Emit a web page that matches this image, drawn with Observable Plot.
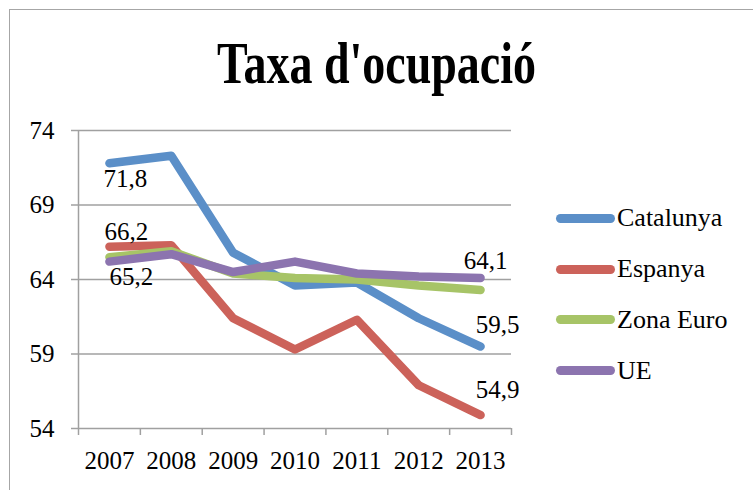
<!DOCTYPE html>
<html><head><meta charset="utf-8">
<script src="https://cdn.jsdelivr.net/npm/d3@7"></script>
<script src="https://cdn.jsdelivr.net/npm/@observablehq/plot@0.6"></script>
<style>
body{margin:0;background:#fff;font-family:"Liberation Serif","Times New Roman",serif;}
#wrap{position:relative;width:753px;height:490px;overflow:hidden;background:#fff;}
#frame{position:absolute;left:9px;top:9px;width:800px;height:600px;border:1.5px solid #a6a6a6;box-sizing:border-box;}
#title{position:absolute;left:0;top:41px;width:753px;text-align:center;font-weight:bold;font-size:46px;line-height:46px;transform:scaleY(1.27);color:#000;}
#chart{position:absolute;left:0;top:0;}
#legend{position:absolute;left:556px;top:193px;}
.row{display:flex;align-items:center;height:50.8px;font-size:26px;color:#000;}
.sw{width:59px;height:9px;border-radius:5px;margin-right:2px;}
</style></head>
<body>
<div id="wrap">
  <div id="frame"></div>
  <div id="title">Taxa d'ocupació</div>
  <div id="chart"></div>
  <div id="legend"></div>
</div>
<script>
const years = [2007, 2008, 2009, 2010, 2011, 2012, 2013];
const catalunya = [71.8, 72.3, 65.8, 63.6, 63.8, 61.4, 59.5];
const espanya   = [66.2, 66.3, 61.4, 59.3, 61.3, 56.9, 54.9];
const zonaEuro  = [65.5, 65.9, 64.4, 64.1, 64.0, 63.6, 63.3];
const ue        = [65.2, 65.7, 64.5, 65.2, 64.4, 64.2, 64.1];
const seriesNames = ["Catalunya", "Espanya", "Zona Euro", "UE"];
const seriesColors = ["#5B8FC8", "#CC625A", "#A7C467", "#8C74AF"];
const yTicks = [54, 59, 64, 69, 74];

const seriesValues = [catalunya, espanya, zonaEuro, ue];
const data = seriesNames.flatMap((s, i) => years.map((y, j) => ({series: s, year: y, value: seriesValues[i][j]})));
const boundaries = [years[0] - 0.5, ...years.map(y => y + 0.5)];
const fmt = v => d3.format(".1f")(v).replace(".", ",");
const pick = (s, y) => data.filter(d => d.series === s && d.year === y);
const first = years[0], last = years[years.length - 1];
const grid = "#a0a0a0";

const labelOpts = {x: "year", y: "value", text: d => fmt(d.value), fontSize: 25, fill: "#000"};

const chart = Plot.plot({
  width: 753, height: 490,
  marginLeft: 78, marginRight: 242, marginTop: 130, marginBottom: 62,
  style: {fontFamily: "'Liberation Serif', 'Times New Roman', serif", fontSize: "25px", background: "transparent", color: "#000"},
  x: {type: "linear", domain: [boundaries[0], boundaries[boundaries.length - 1]], label: null},
  y: {domain: [yTicks[0], yTicks[yTicks.length - 1]], label: null},
  color: {domain: seriesNames, range: seriesColors},
  marks: [
    Plot.gridY({ticks: yTicks, stroke: grid, strokeOpacity: 1, strokeWidth: 1.5}),
    Plot.ruleX([boundaries[0]], {y1: yTicks[0], y2: yTicks[yTicks.length - 1], stroke: grid, strokeWidth: 1.5}),
    Plot.axisY({ticks: yTicks, tickSize: 7, tickPadding: 17, stroke: grid, strokeWidth: 1.5, fill: "#000", fontSize: 25, label: null}),
    Plot.axisX({ticks: boundaries, tickSize: 7, tickFormat: () => "", stroke: grid, strokeWidth: 1.5, label: null}),
    Plot.axisX({ticks: years, tickSize: 0, tickPadding: 23, tickFormat: d => String(d), fill: "#000", fontSize: 25, label: null}),
    Plot.line(data, {x: "year", y: "value", z: "series", stroke: "series", strokeWidth: 8.5, strokeLinecap: "round", strokeLinejoin: "round"}),
    Plot.text(pick("Catalunya", first), {...labelOpts, dx: 16, dy: 16}),
    Plot.text(pick("Espanya", first), {...labelOpts, dx: 17, dy: -15}),
    Plot.text(pick("UE", first), {...labelOpts, dx: 22, dy: 15}),
    Plot.text(pick("UE", last), {...labelOpts, dx: 5, dy: -17}),
    Plot.text(pick("Catalunya", last), {...labelOpts, dx: 17, dy: -22}),
    Plot.text(pick("Espanya", last), {...labelOpts, dx: 17, dy: -25})
  ]
});
document.getElementById("chart").appendChild(chart);

const legend = document.getElementById("legend");
seriesNames.forEach((s, i) => {
  const row = document.createElement("div");
  row.className = "row";
  const sw = document.createElement("div");
  sw.className = "sw";
  sw.style.background = seriesColors[i];
  const t = document.createElement("span");
  t.textContent = s;
  row.appendChild(sw); row.appendChild(t);
  legend.appendChild(row);
});
</script>
</body></html>
